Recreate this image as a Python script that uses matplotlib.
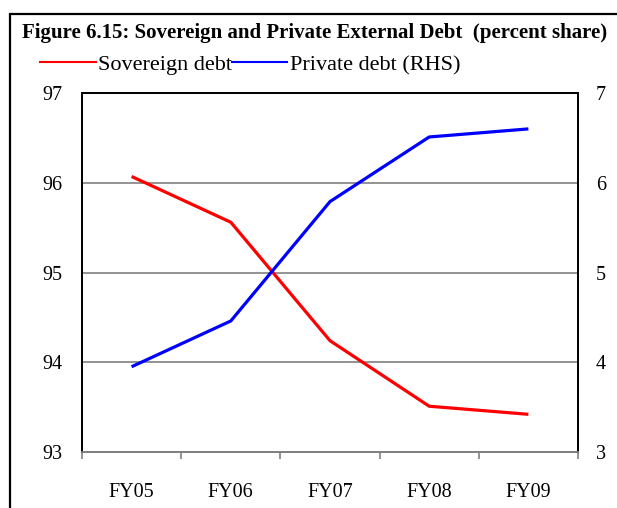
import matplotlib
matplotlib.use("Agg")
import matplotlib.pyplot as plt
from matplotlib.patches import Rectangle
from matplotlib.lines import Line2D

years = ["FY05", "FY06", "FY07", "FY08", "FY09"]
sovereign = [96.07, 95.56, 94.24, 93.51, 93.42]
private = [3.95, 4.46, 5.79, 6.51, 6.60]

plt.rcParams["font.family"] = ["Liberation Serif", "DejaVu Serif"]

W, H = 617, 508
fig = plt.figure(figsize=(W / 100, H / 100), dpi=100)

# outer frame of the figure panel
fig.patches.append(Rectangle((10 / W, -0.05), 1.0, (H - 14) / H + 0.05,
                             transform=fig.transFigure, fill=False,
                             edgecolor="black", linewidth=1.6))

ax = fig.add_axes([82 / W, 1 - 452 / H, (578 - 82) / W, (452 - 93) / H])
ax2 = ax.twinx()

x = range(len(years))
ax.plot(x, sovereign, color="#ff0000", linewidth=2.3, solid_capstyle="butt")
ax2.plot(x, private, color="#0000ff", linewidth=2.3, solid_capstyle="butt")

ax.set_xlim(-0.5, len(years) - 0.5)
ax.set_ylim(93, 97)
ax2.set_ylim(3, 7)
ax.set_yticks([93, 94, 95, 96, 97])
ax2.set_yticks([3, 4, 5, 6, 7])

ax.set_xticks(list(x))
ax.set_xticklabels(years)
ax.set_xticks([i - 0.5 for i in range(len(years) + 1)], minor=True)
ax.tick_params(axis="x", which="major", length=0, pad=22.5, labelsize=14.5)
ax.tick_params(axis="x", which="minor", length=5, color="#808080", width=1.2)
ax.tick_params(axis="y", length=0, pad=14, labelsize=14.5)
ax2.tick_params(axis="y", length=0, pad=13, labelsize=14.5)
for lab in ax2.get_yticklabels():
    lab.set_horizontalalignment("left")

ax.grid(axis="y", color="#808080", linewidth=1.2)
ax.set_axisbelow(True)

for a in (ax, ax2):
    for side in ("left", "right", "top"):
        a.spines[side].set_color("black")
        a.spines[side].set_linewidth(1.3)
    a.spines["bottom"].set_color("#808080")
    a.spines["bottom"].set_linewidth(1.3)

fig.text(22 / W, 1 - 33 / H,
         "Figure 6.15: Sovereign and Private External Debt  (percent share)",
         fontsize=15, fontweight="bold", va="center", ha="left")

handles = [Line2D([], [], color="#ff0000", linewidth=1.5),
           Line2D([], [], color="#0000ff", linewidth=1.5)]
fig.legend(handles, ["Sovereign debt", "Private debt (RHS)"],
           loc="center left", bbox_to_anchor=(40 / W, 1 - 65 / H),
           ncol=2, frameon=False, fontsize=16, handlelength=2.5,
           handletextpad=0.1, columnspacing=0.0, borderaxespad=0,
           borderpad=0)

fig.savefig("out.png", dpi=100)
